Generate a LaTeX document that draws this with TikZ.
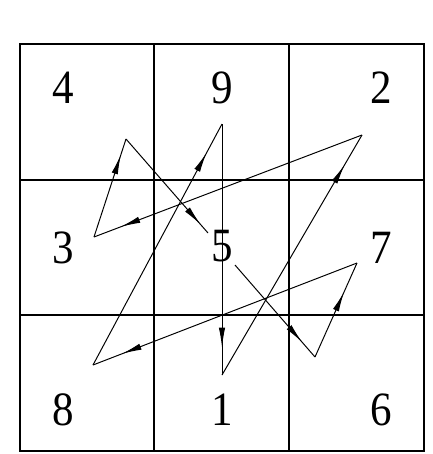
\documentclass[tikz,border=0pt]{standalone}
\usepackage{fontspec}
\setmainfont{Liberation Serif}
\newfontfamily\digitfont[FakeStretch=0.9]{Liberation Serif}
\usetikzlibrary{arrows.meta,decorations.markings}

\begin{document}
\begin{tikzpicture}[x=0.025cm,y=-0.025cm]

\tikzset{cell/.style = {draw,line width=0.9pt}}
\tikzset{digit/.style = {inner sep=0pt,font=\digitfont\fontsize{34}{36}\selectfont}}
\tikzset{edge/.style = {line width=0.7pt,postaction={decorate},
  decoration={markings,mark=at position #1 with {\arrow{Latex[length=14pt,width=4.5pt]}}}}}

\useasboundingbox (0,0) rectangle (433,454);

% grid
\draw[cell] (20,44) rectangle (424,451);
\draw[cell] (154,44) -- (154,451);
\draw[cell] (289,44) -- (289,451);
\draw[cell] (20,180) -- (424,180);
\draw[cell] (20,315) -- (424,315);

% numbers
\node[digit] (n4) at (63,88) {4};
\node[digit] (n9) at (222,88) {9};
\node[digit] (n2) at (381,88) {2};
\node[digit] (n3) at (63,248) {3};
\node[digit] (n5) at (222,246) {5};
\node[digit] (n7) at (381,248) {7};
\node[digit] (n8) at (63,410) {8};
\node[digit] (n1) at (222,410) {1};
\node[digit] (n6) at (381,410) {6};

% vertices
\coordinate (v1) at (222,375);
\coordinate (v2) at (362,135);
\coordinate (v3) at (94,237);
\coordinate (v4) at (126,139);
\coordinate (v5) at (208,233);
\coordinate (v5b) at (235,265);
\coordinate (v6) at (315,357);
\coordinate (v7) at (357,263);
\coordinate (v8) at (93,365);
\coordinate (v9) at (222,124);

%edges
\draw[edge=0.875] (v1) -- (v2);
\draw[edge=0.9] (v2) -- (v3);
\draw[edge=0.84] (v3) -- (v4);
\draw[edge=0.91] (v4) -- (v5);
\draw[edge=0.84] (v5b) -- (v6);
\draw[edge=0.69] (v6) -- (v7);
\draw[edge=0.89] (v7) -- (v8);
\draw[edge=0.88] (v8) -- (v9);
\draw[edge=0.89] (v9) -- (v1);

\end{tikzpicture}
\end{document}
